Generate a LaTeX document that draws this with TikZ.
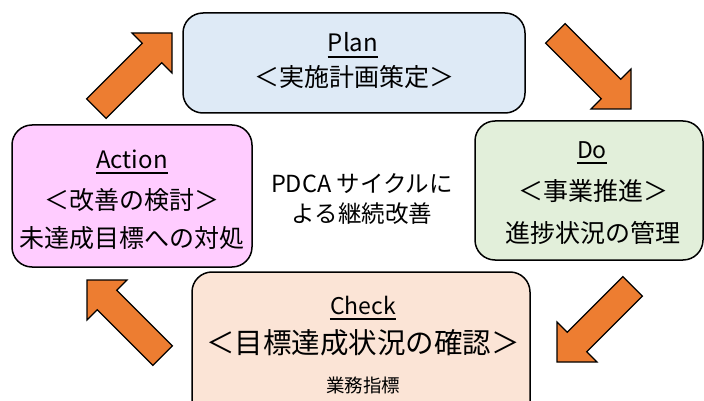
\documentclass[tikz,border=0pt]{standalone}
\usepackage{fontspec}
\setmainfont{Noto Sans CJK JP}
\definecolor{planfill}{HTML}{DEEAF6}
\definecolor{actfill}{HTML}{FFCCFF}
\definecolor{dofill}{HTML}{E2EFDA}
\definecolor{chkfill}{HTML}{FBE4D6}
\definecolor{arrfill}{HTML}{ED7D31}
\tikzset{
  pics/blkarrow/.style={code={
    \draw[arrowshape] (0,0) -- (-28.3,28.3) -- (-28.3,13.8) -- (-107,13.8)
      -- (-107,-13.8) -- (-28.3,-13.8) -- (-28.3,-28.3) -- cycle;}}
}
\begin{document}
\begin{tikzpicture}[x=1pt,y=1pt,
  box/.style={draw=black, line width=1.5pt, rounded corners=20pt, inner sep=0pt},
  arrowshape/.style={fill=arrfill, draw=black, line width=1.2pt, line join=miter},
  txt/.style={inner sep=0pt, anchor=base, text=black},
  lat/.style={txt, font=\fontsize{24}{28}\selectfont},
  latsm/.style={txt, font=\fontsize{23}{26}\selectfont},
  jp/.style={txt, font=\fontsize{25}{30}\selectfont},
  jpbig/.style={txt, font=\fontsize{28.5}{34}\selectfont},
  jpsm/.style={txt, font=\fontsize{18.5}{22}\selectfont},
  mid/.style={txt, font=\fontsize{23.5}{28}\selectfont},
  uline/.style={draw=black, line width=2pt}
]
\useasboundingbox (0,0) rectangle (704,-401);
\clip (0,0) rectangle (704,-401);
\fill[white] (0,0) rectangle (704,-401);

% boxes
\node[box, fill=planfill, minimum width=342pt, minimum height=100pt] (plan) at (354,-63) {};
\node[box, fill=actfill, minimum width=240pt, minimum height=142pt] (act) at (132,-196) {};
\node[box, fill=dofill, minimum width=228pt, minimum height=139pt] (do) at (589,-190.5) {};
\node[box, fill=chkfill, minimum width=338pt, minimum height=158pt] (chk) at (361,-351) {};

% arrows
\pic[rotate=45] at (172,-33) {blkarrow};
\pic[rotate=-45] at (631,-109) {blkarrow};
\pic[rotate=-135] at (557,-362) {blkarrow};
\pic[rotate=135] at (87,-280) {blkarrow};

% Plan text
\node[lat] (planL) at (353,-52) {Plan};
\node[jp] (planJ) at (354,-86.5) {＜実施計画策定＞};
\draw[uline] ([yshift=-5pt]planL.base west) -- ([yshift=-5pt]planL.base east);

% Action text
\node[lat] (actL) at (132,-168) {Action};
\node[jp] (actJ) at (132,-209.5) {＜改善の検討＞};
\node[jp] (actS) at (132,-247.5) {未達成目標への対処};
\draw[uline] ([yshift=-4.5pt]actL.base west) -- ([yshift=-4.5pt]actL.base east);

% Do text
\node[latsm] (doL) at (592,-158) {Do};
\node[jp] (doJ) at (593,-200.5) {＜事業推進＞};
\node[jp] (doS) at (593,-242.5) {進捗状況の管理};
\draw[uline] ([yshift=-4.5pt]doL.base west) -- ([yshift=-4.5pt]doL.base east);

% Check text
\node[latsm] (chkL) at (363,-314) {Check};
\node[jpbig] (chkJ) at (363,-353) {＜目標達成状況の確認＞};
\node[jpsm] (chkS) at (363,-392) {業務指標};
\draw[uline] ([yshift=-4.5pt]chkL.base west) -- ([yshift=-4.5pt]chkL.base east);

% centre text
\node[mid] (c1) at (362,-192) {PDCA サイクルに};
\node[mid] (c2) at (362,-222) {よる継続改善};
\end{tikzpicture}
\end{document}
